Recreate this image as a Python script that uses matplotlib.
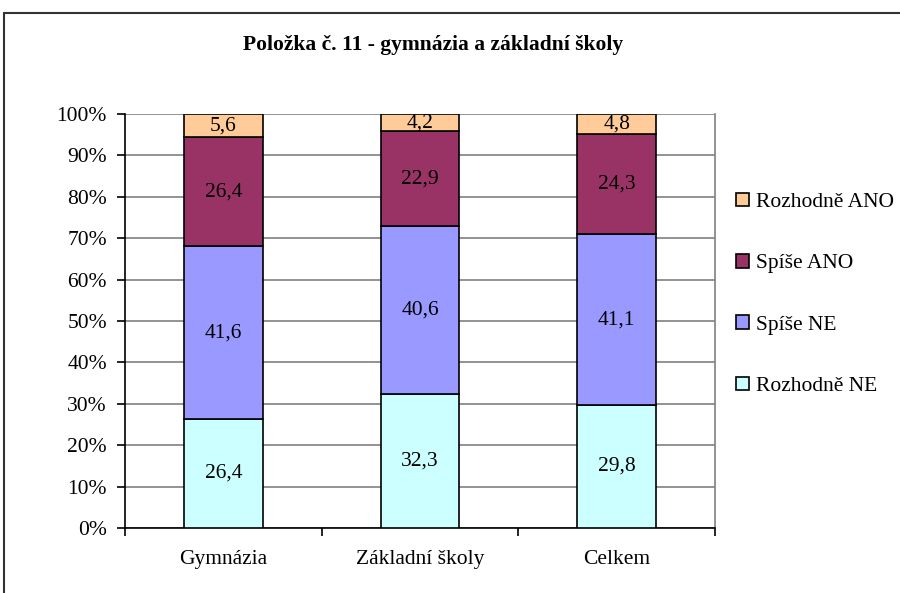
import matplotlib
matplotlib.use("Agg")
import matplotlib.pyplot as plt
from matplotlib.patches import Rectangle
from matplotlib.ticker import FuncFormatter, MultipleLocator

categories = ["Gymnázia", "Základní školy", "Celkem"]
series_names = ["Rozhodně NE", "Spíše NE", "Spíše ANO", "Rozhodně ANO"]
rozhodne_ne = [26.4, 32.3, 29.8]
spise_ne = [41.6, 40.6, 41.1]
spise_ano = [26.4, 22.9, 24.3]
rozhodne_ano = [5.6, 4.2, 4.8]
colors = ["#CCFFFF", "#9999FF", "#993366", "#FFCC99"]
title = "Položka č. 11 - gymnázia a základní školy"

plt.rcParams['font.family'] = ['Liberation Serif', 'DejaVu Serif']

fig = plt.figure(figsize=(9, 5.93), dpi=100)
W, H = 900, 593
ax = fig.add_axes([125 / W, 1 - 528 / H, (715 - 125) / W, (528 - 114) / H])

FS = 15.5
series = [rozhodne_ne, spise_ne, spise_ano, rozhodne_ano]
x = list(range(len(categories)))
bottom = [0.0] * len(categories)
handles = []
for name, vals, c in zip(series_names, series, colors):
    bars = ax.bar(x, vals, bottom=bottom, width=0.40, color=c, edgecolor="black",
                  linewidth=1.2, label=name, zorder=3)
    handles.append(bars)
    for xi, v, b in zip(x, vals, bottom):
        ax.text(xi, b + v / 2, f"{v:.1f}".replace(".", ","), ha="center", va="center",
                fontsize=FS, color="black", zorder=4)
    bottom = [b + v for b, v in zip(bottom, vals)]

ax.set_xlim(-0.5, len(categories) - 0.5)
ax.set_ylim(0, 100)
ax.yaxis.set_major_locator(MultipleLocator(10))
ax.yaxis.set_major_formatter(FuncFormatter(lambda v, p: f"{int(round(v))}%"))
ax.set_xticks(x)
ax.set_xticklabels(categories)
ax.set_xticks([i + 0.5 for i in range(-1, len(categories))], minor=True)
ax.tick_params(axis="x", which="major", length=0, labelsize=FS, pad=16)
ax.tick_params(axis="x", which="minor", length=6, width=1.2, direction="out")
ax.tick_params(axis="y", length=6, width=1.2, labelsize=FS, direction="out", pad=7)
ax.grid(axis="y", color="#808080", linewidth=1.2, zorder=0)

ax.spines["top"].set_visible(False)
ax.spines["right"].set_color("#808080")
ax.spines["right"].set_linewidth(1.2)
ax.spines["left"].set_color("black")
ax.spines["left"].set_linewidth(1.2)
ax.spines["bottom"].set_color("black")
ax.spines["bottom"].set_linewidth(1.2)

fig.text(433 / W, 1 - 45 / H, title, ha="center", va="center", fontsize=15.5, fontweight="bold")

leg = fig.legend(handles[::-1], series_names[::-1], loc="upper left",
                 bbox_to_anchor=(727 / W, 1 - 184 / H), frameon=False, fontsize=FS,
                 handlelength=0.6, handleheight=0.6, handletextpad=0.35, labelspacing=1.95,
                 borderaxespad=0)

fig.add_artist(Rectangle((4 / W, -0.05), 1.1, 1 - 13 / H + 0.05, transform=fig.transFigure,
                         fill=False, edgecolor="#333333", linewidth=1.5))

fig.savefig("out.png", dpi=100)
